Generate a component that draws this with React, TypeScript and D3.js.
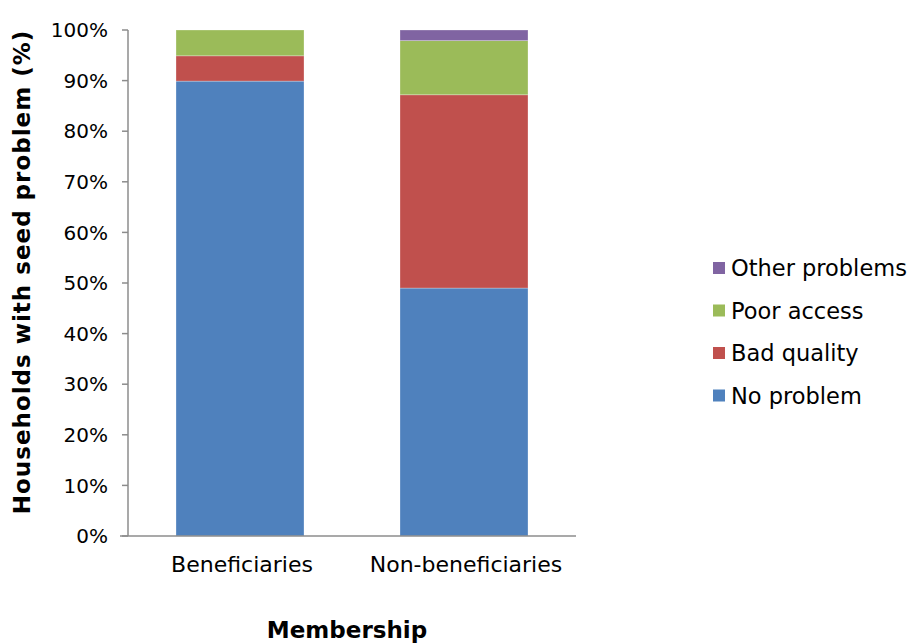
import React from "react";
import * as d3 from "d3";

const categories = ["Beneficiaries", "Non-beneficiaries"];
const seriesNames = ["No problem", "Bad quality", "Poor access", "Other problems"];
const noProblem = [89.9, 49.0];
const badQuality = [5.0, 38.2];
const poorAccess = [5.1, 10.7];
const otherProblems = [0, 2.1];
const colors = ["#4F81BD", "#C0504D", "#9BBB59", "#8064A2"];
const yTicks = [0, 10, 20, 30, 40, 50, 60, 70, 80, 90, 100];

const W = 914;
const H = 643;
const plot = { left: 128, right: 576, top: 30, bottom: 536 };
const FONT = "'DejaVu Sans', Verdana, sans-serif";

export default function App() {
  const rows = categories.map((c, i) => ({
    cat: c,
    "No problem": noProblem[i],
    "Bad quality": badQuality[i],
    "Poor access": poorAccess[i],
    "Other problems": otherProblems[i],
  }));
  const stacked = d3.stack<any>().keys(seriesNames)(rows);

  const x = d3
    .scaleBand()
    .domain(categories)
    .range([plot.left, plot.right])
    .paddingInner(0.4286)
    .paddingOuter(0.2143);
  const y = d3.scaleLinear().domain([0, 100]).range([plot.bottom, plot.top]);

  const axisColor = "#8C8C8C";

  return (
    <svg
      width={W}
      height={H}
      style={{ position: "absolute", left: 0, top: 0, background: "#fff" }}
      fontFamily={FONT}
    >
      {/* bars */}
      {stacked.map((s, si) => (
        <g key={seriesNames[si]} fill={colors[si]}>
          {s.map((d, i) =>
            d[1] - d[0] > 0 ? (
              <rect
                key={i}
                x={x(categories[i])}
                width={x.bandwidth()}
                y={y(d[1])}
                height={y(d[0]) - y(d[1])}
                stroke="rgba(255,255,255,0.35)"
                strokeWidth={0.8}
              />
            ) : null
          )}
        </g>
      ))}

      {/* y axis */}
      <line x1={plot.left} x2={plot.left} y1={plot.top} y2={plot.bottom} stroke={axisColor} strokeWidth={1.5} />
      {yTicks.map((t) => (
        <g key={t}>
          <line x1={plot.left - 6} x2={plot.left} y1={y(t)} y2={y(t)} stroke={axisColor} strokeWidth={1.5} />
          <text x={108} y={y(t)} dy="0.36em" textAnchor="end" fontSize={20} fill="#000">
            {t}%
          </text>
        </g>
      ))}

      {/* x axis */}
      <line x1={plot.left - 8} x2={plot.right} y1={plot.bottom} y2={plot.bottom} stroke={axisColor} strokeWidth={1.5} />
      {categories.map((c) => (
        <text
          key={c}
          x={(x(c) as number) + x.bandwidth() / 2 + 2}
          y={572}
          textAnchor="middle"
          fontSize={22}
          fill="#000"
        >
          {c}
        </text>
      ))}

      {/* axis titles */}
      <text x={347} y={638} textAnchor="middle" fontSize={23} fontWeight="bold" fill="#000">
        Membership
      </text>
      <text
        transform={`translate(30,272) rotate(-90)`}
        textAnchor="middle"
        fontSize={23}
        fontWeight="bold"
        letterSpacing={1}
        fill="#000"
      >
        Households with seed problem (%)
      </text>

      {/* legend */}
      {seriesNames
        .slice()
        .reverse()
        .map((name, i) => {
          const idx = seriesNames.indexOf(name);
          const cy = 268 + i * 42.5;
          return (
            <g key={name}>
              <rect x={713} y={cy - 6} width={12} height={12} fill={colors[idx]} />
              <text x={731} y={cy} dy="0.36em" fontSize={22.5} fill="#000">
                {name}
              </text>
            </g>
          );
        })}
    </svg>
  );
}
